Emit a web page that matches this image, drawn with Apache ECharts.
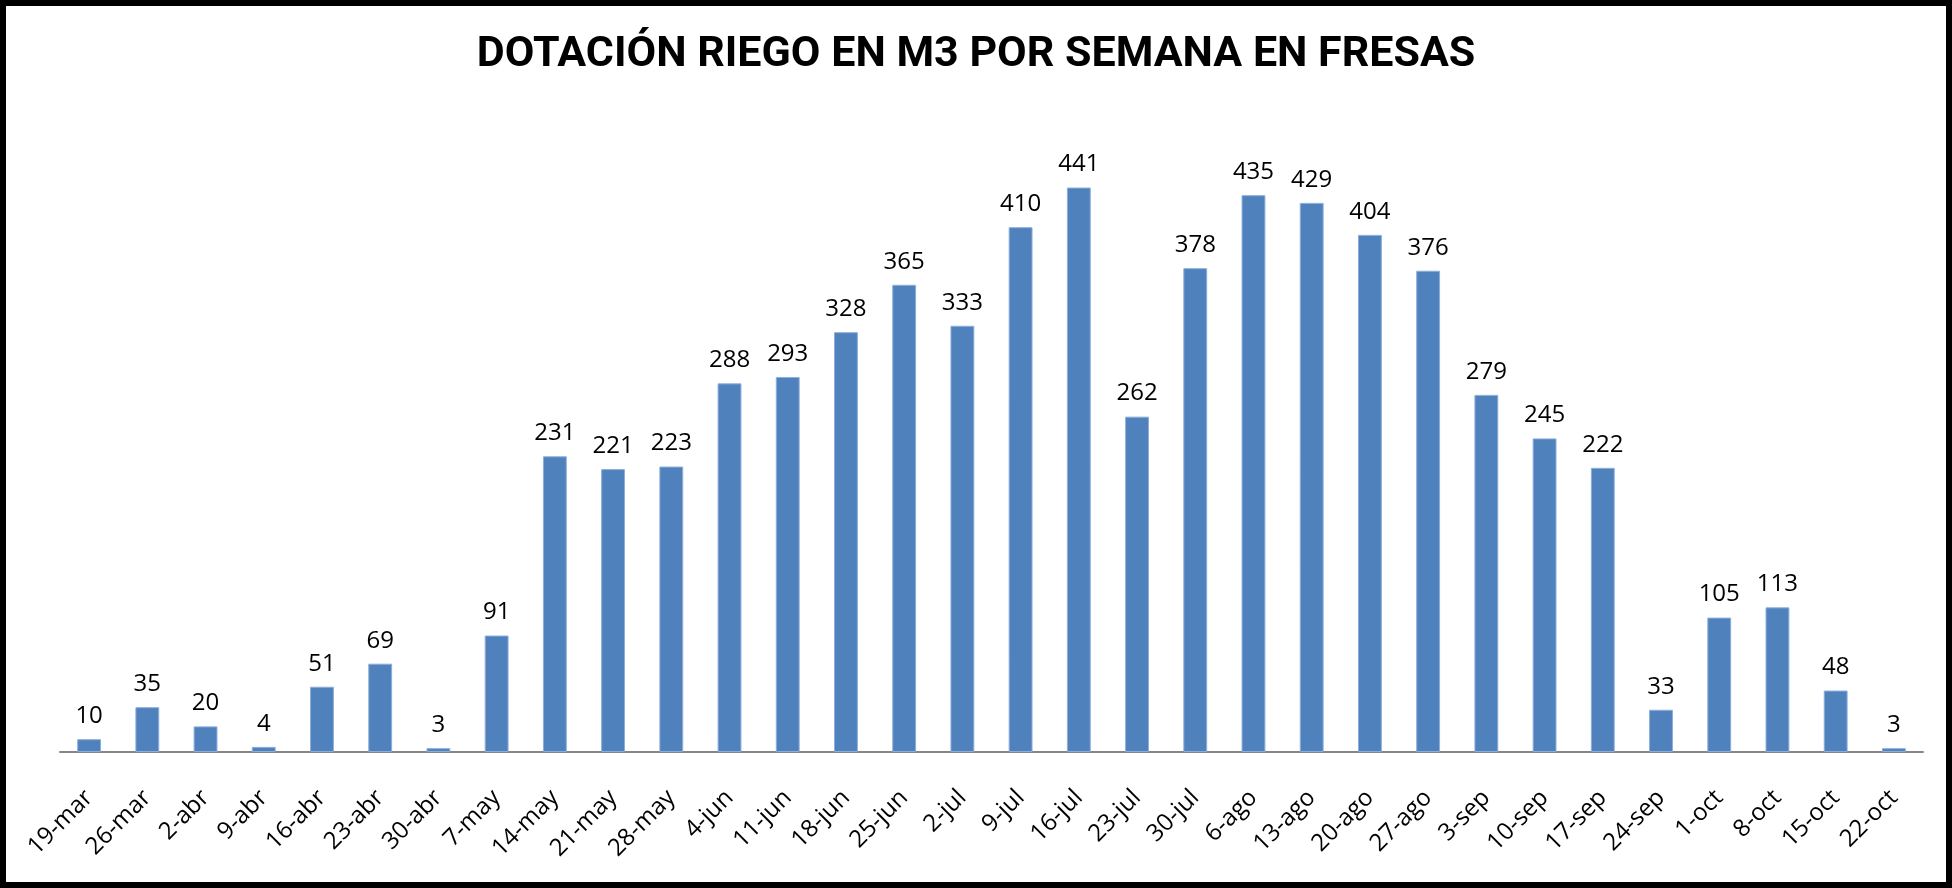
<!DOCTYPE html>
<html>
<head>
<meta charset="utf-8">
<title>Dotación riego</title>
<script src="https://cdn.jsdelivr.net/npm/echarts@6/dist/echarts.min.js"></script>
<style>
  html, body { margin: 0; padding: 0; background: #fff; }
  #chart { width: 1952px; height: 888px; }
</style>
</head>
<body>
<div id="chart"></div>
<script>
const weeks = ['19-mar', '26-mar', '2-abr', '9-abr', '16-abr', '23-abr', '30-abr', '7-may',
  '14-may', '21-may', '28-may', '4-jun', '11-jun', '18-jun', '25-jun', '2-jul',
  '9-jul', '16-jul', '23-jul', '30-jul', '6-ago', '13-ago', '20-ago', '27-ago',
  '3-sep', '10-sep', '17-sep', '24-sep', '1-oct', '8-oct', '15-oct', '22-oct'];
const m3 = [10, 35, 20, 4, 51, 69, 3, 91,
  231, 221, 223, 288, 293, 328, 365, 333,
  410, 441, 262, 378, 435, 429, 404, 376,
  279, 245, 222, 33, 105, 113, 48, 3];

const chart = echarts.init(document.getElementById('chart'));

chart.setOption({
  animation: false,
  backgroundColor: '#fff',
  title: {
    text: 'DOTACIÓN RIEGO EN M3 POR SEMANA EN FRESAS',
    left: 'center',
    top: 29,
    textStyle: {
      fontFamily: 'Roboto, "Liberation Sans", sans-serif',
      fontWeight: 'bold',
      fontSize: 43,
      color: '#000'
    }
  },
  grid: {
    left: 60,
    right: 29,
    top: 112,
    bottom: 136
  },
  xAxis: {
    type: 'category',
    data: weeks,
    axisTick: { show: false },
    axisLine: { lineStyle: { color: '#868686', width: 2 } },
    axisLabel: {
      rotate: 45,
      margin: 42,
      interval: 0,
      color: '#000',
      fontFamily: '"Open Sans", sans-serif',
      fontSize: 24
    }
  },
  yAxis: {
    type: 'value',
    min: 0,
    max: 500,
    show: false
  },
  series: [
    {
      name: 'M3',
      type: 'bar',
      data: m3,
      barWidth: '41%',
      itemStyle: {
        color: '#4F81BD',
        borderColor: '#8DAEDA',
        borderWidth: 1
      },
      label: {
        show: true,
        position: 'top',
        distance: 11,
        color: '#000',
        fontFamily: '"Open Sans", sans-serif',
        fontSize: 24
      }
    }
  ],
  graphic: [
    {
      type: 'rect',
      shape: { x: 3, y: 3, width: 1946, height: 882 },
      style: { fill: null, stroke: '#000', lineWidth: 6 },
      silent: true
    }
  ]
});
</script>
</body>
</html>
